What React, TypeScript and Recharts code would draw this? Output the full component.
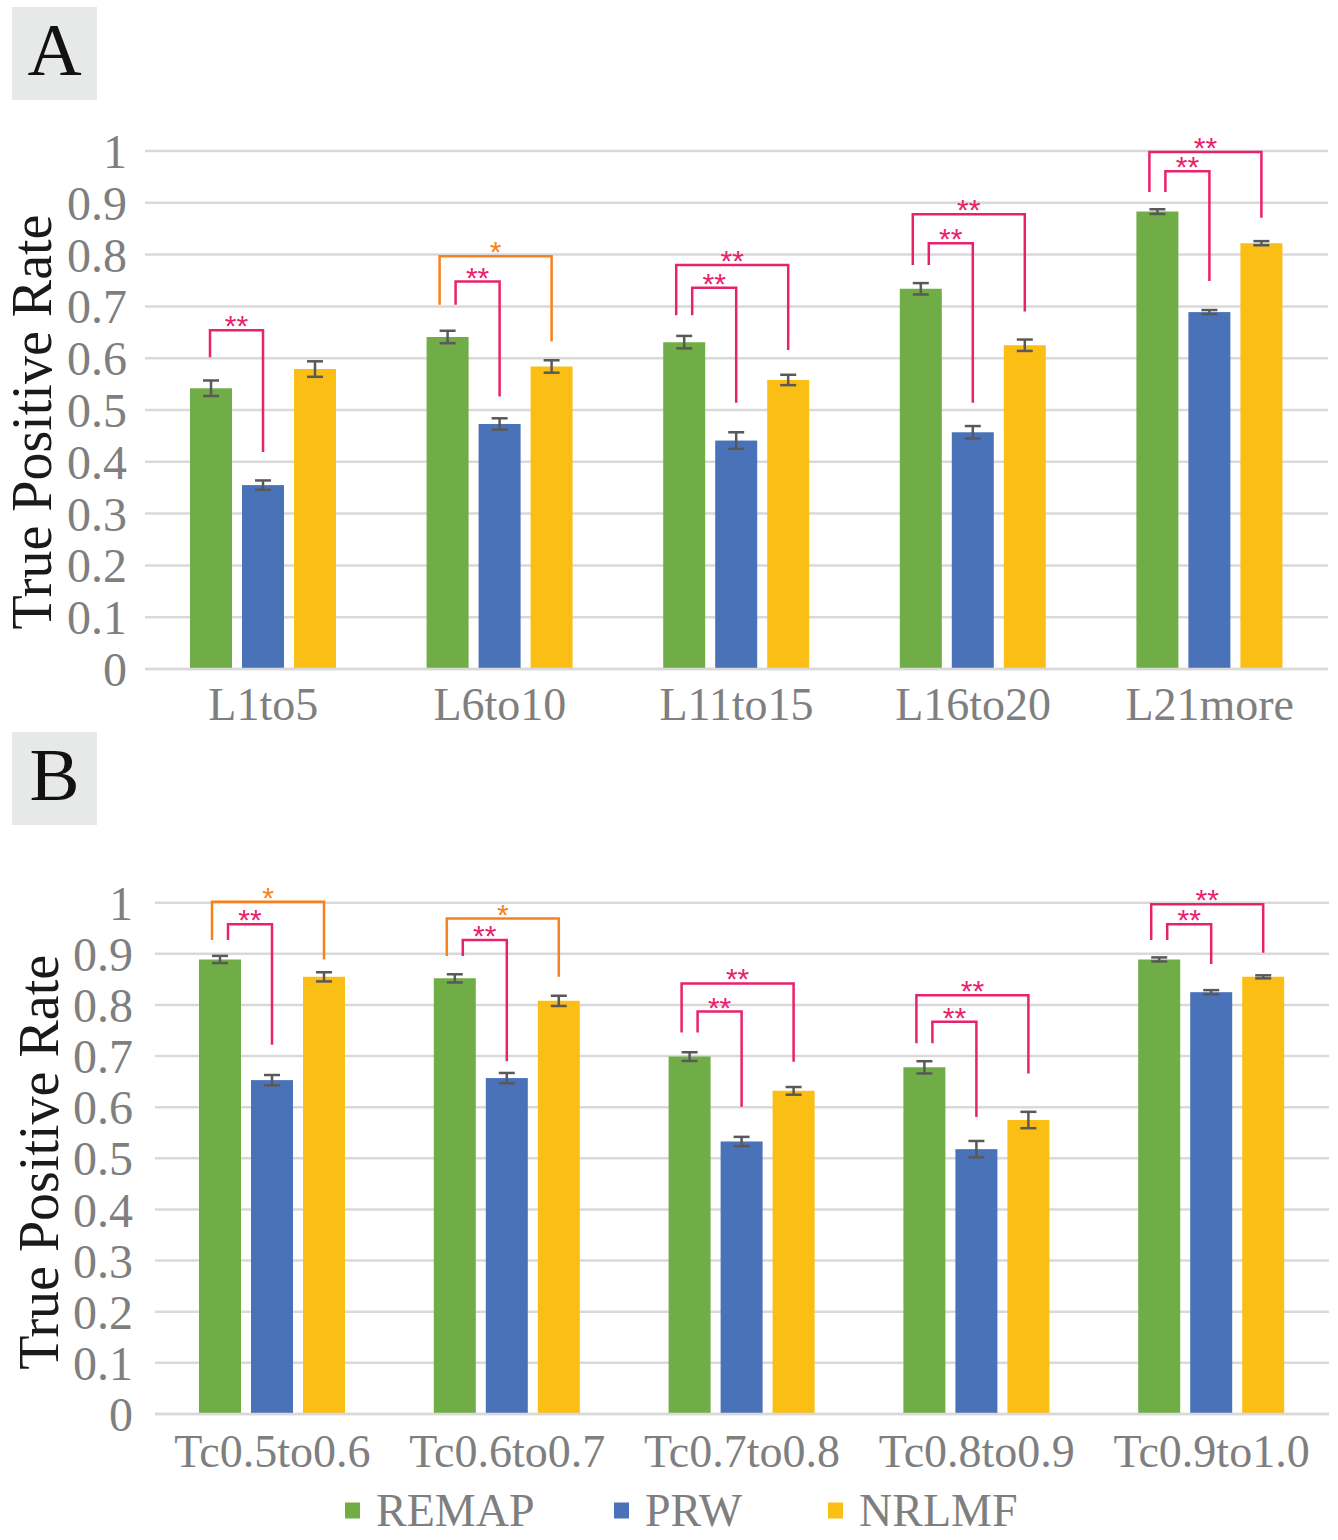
import React from 'react';
import { BarChart, Bar, XAxis, YAxis, CartesianGrid, ErrorBar } from 'recharts';

// ---------- Data ----------
const seriesNames = ['REMAP', 'PRW', 'NRLMF'];
const seriesColors = ['#70AD47', '#4A72B8', '#FBBE14'];

const categoriesA = ['L1to5', 'L6to10', 'L11to15', 'L16to20', 'L21more'];
const remapA = [0.542, 0.641, 0.631, 0.734, 0.883];
const remapErrA = [0.015, 0.012, 0.012, 0.011, 0.0045];
const prwA = [0.355, 0.473, 0.441, 0.457, 0.689];
const prwErrA = [0.009, 0.011, 0.016, 0.012, 0.004];
const nrlmfA = [0.579, 0.584, 0.558, 0.625, 0.822];
const nrlmfErrA = [0.015, 0.012, 0.01, 0.011, 0.004];

const categoriesB = ['Tc0.5to0.6', 'Tc0.6to0.7', 'Tc0.7to0.8', 'Tc0.8to0.9', 'Tc0.9to1.0'];
const remapB = [0.889, 0.852, 0.699, 0.678, 0.889];
const remapErrB = [0.007, 0.008, 0.0085, 0.012, 0.004];
const prwB = [0.653, 0.657, 0.533, 0.518, 0.825];
const prwErrB = [0.01, 0.01, 0.009, 0.016, 0.004];
const nrlmfB = [0.855, 0.808, 0.632, 0.575, 0.855];
const nrlmfErrB = [0.009, 0.01, 0.0075, 0.016, 0.003];

const yTicks = [0, 0.1, 0.2, 0.3, 0.4, 0.5, 0.6, 0.7, 0.8, 0.9, 1];
const yTitle = 'True Positive Rate';

// significance brackets: REMAP vs target series, values in data units
const sigA = [
  { cat: 'L1to5', to: 'prw', top: 0.654, leftEnd: 0.602, rightEnd: 0.419, mark: '**' },
  { cat: 'L6to10', to: 'nrlmf', top: 0.797, leftEnd: 0.703, rightEnd: 0.632, mark: '*' },
  { cat: 'L6to10', to: 'prw', top: 0.748, leftEnd: 0.703, rightEnd: 0.526, mark: '**' },
  { cat: 'L11to15', to: 'nrlmf', top: 0.78, leftEnd: 0.683, rightEnd: 0.616, mark: '**' },
  { cat: 'L11to15', to: 'prw', top: 0.736, leftEnd: 0.683, rightEnd: 0.514, mark: '**' },
  { cat: 'L16to20', to: 'nrlmf', top: 0.878, leftEnd: 0.78, rightEnd: 0.69, mark: '**' },
  { cat: 'L16to20', to: 'prw', top: 0.822, leftEnd: 0.78, rightEnd: 0.514, mark: '**' },
  { cat: 'L21more', to: 'nrlmf', top: 0.998, leftEnd: 0.921, rightEnd: 0.871, mark: '**' },
  { cat: 'L21more', to: 'prw', top: 0.961, leftEnd: 0.921, rightEnd: 0.749, mark: '**' },
];

const sigB = [
  { cat: 'Tc0.5to0.6', to: 'nrlmf', top: 1.002, leftEnd: 0.927, rightEnd: 0.889, mark: '*' },
  { cat: 'Tc0.5to0.6', to: 'prw', top: 0.958, leftEnd: 0.927, rightEnd: 0.722, mark: '**' },
  { cat: 'Tc0.6to0.7', to: 'nrlmf', top: 0.969, leftEnd: 0.896, rightEnd: 0.855, mark: '*' },
  { cat: 'Tc0.6to0.7', to: 'prw', top: 0.927, leftEnd: 0.896, rightEnd: 0.69, mark: '**' },
  { cat: 'Tc0.7to0.8', to: 'nrlmf', top: 0.842, leftEnd: 0.746, rightEnd: 0.689, mark: '**' },
  { cat: 'Tc0.7to0.8', to: 'prw', top: 0.787, leftEnd: 0.746, rightEnd: 0.601, mark: '**' },
  { cat: 'Tc0.8to0.9', to: 'nrlmf', top: 0.819, leftEnd: 0.725, rightEnd: 0.666, mark: '**' },
  { cat: 'Tc0.8to0.9', to: 'prw', top: 0.767, leftEnd: 0.725, rightEnd: 0.581, mark: '**' },
  { cat: 'Tc0.9to1.0', to: 'nrlmf', top: 0.997, leftEnd: 0.927, rightEnd: 0.902, mark: '**' },
  { cat: 'Tc0.9to1.0', to: 'prw', top: 0.958, leftEnd: 0.927, rightEnd: 0.88, mark: '**' },
];

// ---------- Styles ----------
const BAR_SIZE = 42;
const BAR_GAP = 10;
const PINK = '#E9226D';
const ORANGE = '#F5821F';
const GRID = '#D9D9D9';
const TICK = '#7F7F7F';
const ERR = '#595959';
const SERIF = '"Liberation Serif", "Times New Roman", serif';
const SANS = '"Liberation Sans", Arial, sans-serif';

type Sig = { cat: string; to: string; top: number; leftEnd: number; rightEnd: number; mark: string };

function buildRows(
  cats: string[], remap: number[], remapErr: number[], prw: number[], prwErr: number[],
  nrlmf: number[], nrlmfErr: number[],
) {
  return cats.map((cat, i) => ({
    cat,
    remap: remap[i], remapErr: remapErr[i],
    prw: prw[i], prwErr: prwErr[i],
    nrlmf: nrlmf[i], nrlmfErr: nrlmfErr[i],
  }));
}

const dataA = buildRows(categoriesA, remapA, remapErrA, prwA, prwErrA, nrlmfA, nrlmfErrA);
const dataB = buildRows(categoriesB, remapB, remapErrB, prwB, prwErrB, nrlmfB, nrlmfErrB);

// The middle (PRW) bar draws the brackets of its group, converting data values
// to pixels with the scale implied by its own geometry.
function makeBracketShape(sigs: Sig[]) {
  return function BracketShape(props: any) {
    const { x, y, width, height, fill, payload } = props;
    const v = payload.prw;
    const base = y + height;
    const k = height / v;
    const py = (val: number) => base - val * k;
    const cx = x + width / 2;
    const step = width + BAR_GAP;
    const centers: Record<string, number> = { remap: cx - step, prw: cx, nrlmf: cx + step };
    const list = sigs.filter((s) => s.cat === payload.cat);
    const paired = list.length > 1;
    return (
      <g>
        <rect x={x} y={y} width={width} height={height} fill={fill} />
        {list.map((s, j) => {
          const color = s.mark === '*' ? ORANGE : PINK;
          const lx = centers.remap + (paired ? (s.to === 'nrlmf' ? -8 : 8) : -1);
          const rx = centers[s.to];
          const ty = py(s.top);
          return (
            <g key={j}>
              <polyline
                points={`${lx},${py(s.leftEnd)} ${lx},${ty} ${rx},${ty} ${rx},${py(s.rightEnd)}`}
                fill="none"
                stroke={color}
                strokeWidth={2.5}
              />
              <text
                x={(lx + rx) / 2}
                y={ty + 6}
                textAnchor="middle"
                fontSize={30}
                fill={color}
                fontFamily={SANS}
              >
                {s.mark}
              </text>
            </g>
          );
        })}
      </g>
    );
  };
}

type PanelProps = {
  data: any[];
  sigs: Sig[];
  height: number;
  margin: { top: number; right: number; bottom: number; left: number };
  yAxisWidth: number;
  yTickMargin: number;
  xTickMargin: number;
  xFontSize: number;
  titleDx: number;
  titleDy: number;
};

function Panel(p: PanelProps) {
  const keys = ['remap', 'prw', 'nrlmf'];
  return (
    <BarChart
      width={1338}
      height={p.height}
      data={p.data}
      margin={p.margin}
      barSize={BAR_SIZE}
      barGap={BAR_GAP}
    >
      <CartesianGrid vertical={false} stroke={GRID} strokeWidth={2.5} />
      <XAxis
        dataKey="cat"
        height={60}
        interval={0}
        axisLine={{ stroke: GRID, strokeWidth: 2.5 }}
        tickLine={false}
        tickMargin={p.xTickMargin}
        tick={{ fill: TICK, fontSize: p.xFontSize, fontFamily: SERIF }}
      />
      <YAxis
        domain={[0, 1]}
        ticks={yTicks}
        interval={0}
        width={p.yAxisWidth}
        axisLine={false}
        tickLine={false}
        tickMargin={p.yTickMargin}
        tickFormatter={(v: number) => String(v)}
        tick={{ fill: TICK, fontSize: 48, fontFamily: SERIF }}
        label={{
          value: yTitle,
          angle: -90,
          position: 'center',
          dx: p.titleDx,
          dy: p.titleDy,
          style: { fill: '#1A1A1A', fontSize: 56, fontFamily: SERIF, textAnchor: 'middle' },
        }}
      />
      {keys.map((key, i) => (
        <Bar
          key={key}
          dataKey={key}
          name={seriesNames[i]}
          fill={seriesColors[i]}
          isAnimationActive={false}
          shape={key === 'prw' ? makeBracketShape(p.sigs) : undefined}
        >
          <ErrorBar
            dataKey={key + 'Err'}
            direction="y"
            width={8}
            stroke={ERR}
            strokeWidth={2.5}
            isAnimationActive={false}
          />
        </Bar>
      ))}
    </BarChart>
  );
}

function PanelTag({ letter, top }: { letter: string; top: number }) {
  return (
    <div
      style={{
        position: 'absolute',
        left: 12,
        top,
        width: 85,
        height: 93,
        background: '#E7E9E8',
      }}
    >
      <svg width={85} height={93}>
        <text x={42.5} y={68} textAnchor="middle" fontSize={75} fontFamily={SERIF} fill="#111">
          {letter}
        </text>
      </svg>
    </div>
  );
}

function LegendRow() {
  const itemX = [345, 614, 828];
  return (
    <svg
      width={1338}
      height={60}
      style={{ position: 'absolute', left: 0, top: 1478 }}
    >
      {seriesNames.map((name, i) => (
        <g key={name}>
          <rect x={itemX[i]} y={24.5} width={15} height={16} fill={seriesColors[i]} />
          <text x={itemX[i] + 31} y={48} fontSize={46} fontFamily={SERIF} fill={TICK}>
            {name}
          </text>
        </g>
      ))}
    </svg>
  );
}

export default function App() {
  return (
    <div
      style={{
        position: 'absolute',
        left: 0,
        top: 0,
        width: 1338,
        height: 1540,
        background: '#fff',
        overflow: 'hidden',
      }}
    >
      <div style={{ position: 'absolute', left: 0, top: 0 }}>
        <Panel
          data={dataA}
          sigs={sigA}
          height={740}
          margin={{ top: 151, right: 10, bottom: 11, left: 0 }}
          yAxisWidth={145}
          yTickMargin={12}
          xTickMargin={12}
          xFontSize={46}
          titleDx={-41}
          titleDy={12}
        />
      </div>
      <div style={{ position: 'absolute', left: 0, top: 740 }}>
        <Panel
          data={dataB}
          sigs={sigB}
          height={800}
          margin={{ top: 162.7, right: 9, bottom: 66, left: 0 }}
          yAxisWidth={155}
          yTickMargin={16}
          xTickMargin={14}
          xFontSize={46}
          titleDx={-39.5}
          titleDy={4}
        />
      </div>
      <PanelTag letter="A" top={7} />
      <PanelTag letter="B" top={732} />
      <LegendRow />
    </div>
  );
}
